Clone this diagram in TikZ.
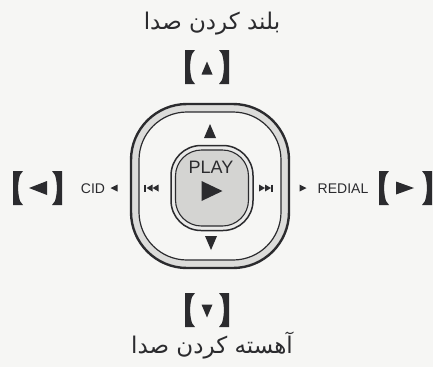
\documentclass[tikz,border=0pt]{standalone}
\usepackage{fontspec}
\setmainfont{Liberation Sans}
\newfontfamily\arabicfont[Script=Arabic]{DejaVu Sans}
\TeXXeTstate=1
\definecolor{ink}{HTML}{2B2B2E}
\definecolor{paper}{HTML}{F6F6F4}
\definecolor{band}{HTML}{DCDCDA}
\definecolor{keyfill}{HTML}{D4D4D2}

\tikzset{
    brk/.pic={
        \fill[ink] (-5,-17) -- (5,-17) -- (2,-13) .. controls (-0.5,-5) and (-0.5,5) .. (2,13) -- (5,17) -- (-5,17) -- cycle;
    },
    faword/.style={font=\arabicfont\fontsize{23}{27}\selectfont, text=ink, inner sep=0},
    keyword/.style={font=\fontsize{14}{16}\selectfont, text=ink, inner sep=0},
    ringout/.style={draw=ink, line width=2.4pt, fill=band, minimum width=158pt, minimum height=164pt, rounded corners=56pt, inner sep=0},
    ringin/.style={draw=ink, line width=1.2pt, fill=paper, minimum width=142pt, minimum height=148pt, rounded corners=48pt, inner sep=0},
    playout/.style={draw=ink, line width=1.5pt, fill=band!60, minimum width=82pt, minimum height=85pt, rounded corners=30pt, inner sep=0},
    playin/.style={draw=ink, line width=1.1pt, fill=keyfill, minimum width=73pt, minimum height=76pt, rounded corners=26pt, inner sep=0}
}
% filled triangle: centre x, centre y, base, length, direction
\newcommand{\tri}[5]{\fill[ink, shift={(#1,#2)}, rotate=#5] (-#4/2,-#3/2) -- (#4/2,0) -- (-#4/2,#3/2) -- cycle;}

\begin{document}
\begin{tikzpicture}[x=1pt,y=-1pt]
    \fill[paper] (0,0) rectangle (433,367);
    \useasboundingbox (0,0) rectangle (433,367);

    % volume up
    \node[faword] (upword) at (212,24) {\beginR بلند کردن صدا\endR};
    \pic at (190,67) {brk};
    \pic[xscale=-1] at (224,67) {brk};
    \tri{207}{68}{11}{13}{90}

    % the pad
    \node[ringout] (padout) at (210,186) {};
    \node[ringin] (padin) at (210,186) {};
    \node[playout] (playout) at (212,188) {};
    \node[playin] (playin) at (212,188) {};
    \node[font=\fontsize{18}{20}\selectfont, text=ink, inner sep=0] (play) at (211,167) {PLAY};
    \tri{212}{191}{20}{21}{0}
    \tri{210}{131}{12}{14}{90}
    \tri{211}{243}{12}{14}{-90}

    % skip back / forward
    \draw[ink, line width=1.2pt] (145,184.5) -- (145,191.5);
    \tri{149.5}{188}{7}{6}{180}
    \tri{155.5}{188}{7}{6}{180}
    \tri{262}{188}{7}{6}{0}
    \tri{268}{188}{7}{6}{0}
    \draw[ink, line width=1.2pt] (272,184.5) -- (272,191.5);

    % left key
    \pic at (18,188) {brk};
    \pic[xscale=-1] at (57,188) {brk};
    \tri{38}{188}{14}{18}{180}
    \node[keyword] (cid) at (93,189) {CID};
    \tri{114}{188}{7}{7}{180}

    % right key
    \tri{303}{188}{7}{7}{0}
    \node[keyword] (redial) at (343,189) {REDIAL};
    \pic at (384,188) {brk};
    \pic[xscale=-1] at (427,188) {brk};
    \tri{405}{188}{13}{18}{0}

    % volume down
    \pic at (190,310) {brk};
    \pic[xscale=-1] at (224,310) {brk};
    \tri{207}{311}{11}{13}{-90}
    \node[faword] (downword) at (212,346) {\beginR آهسته کردن صدا\endR};
\end{tikzpicture}
\end{document}
